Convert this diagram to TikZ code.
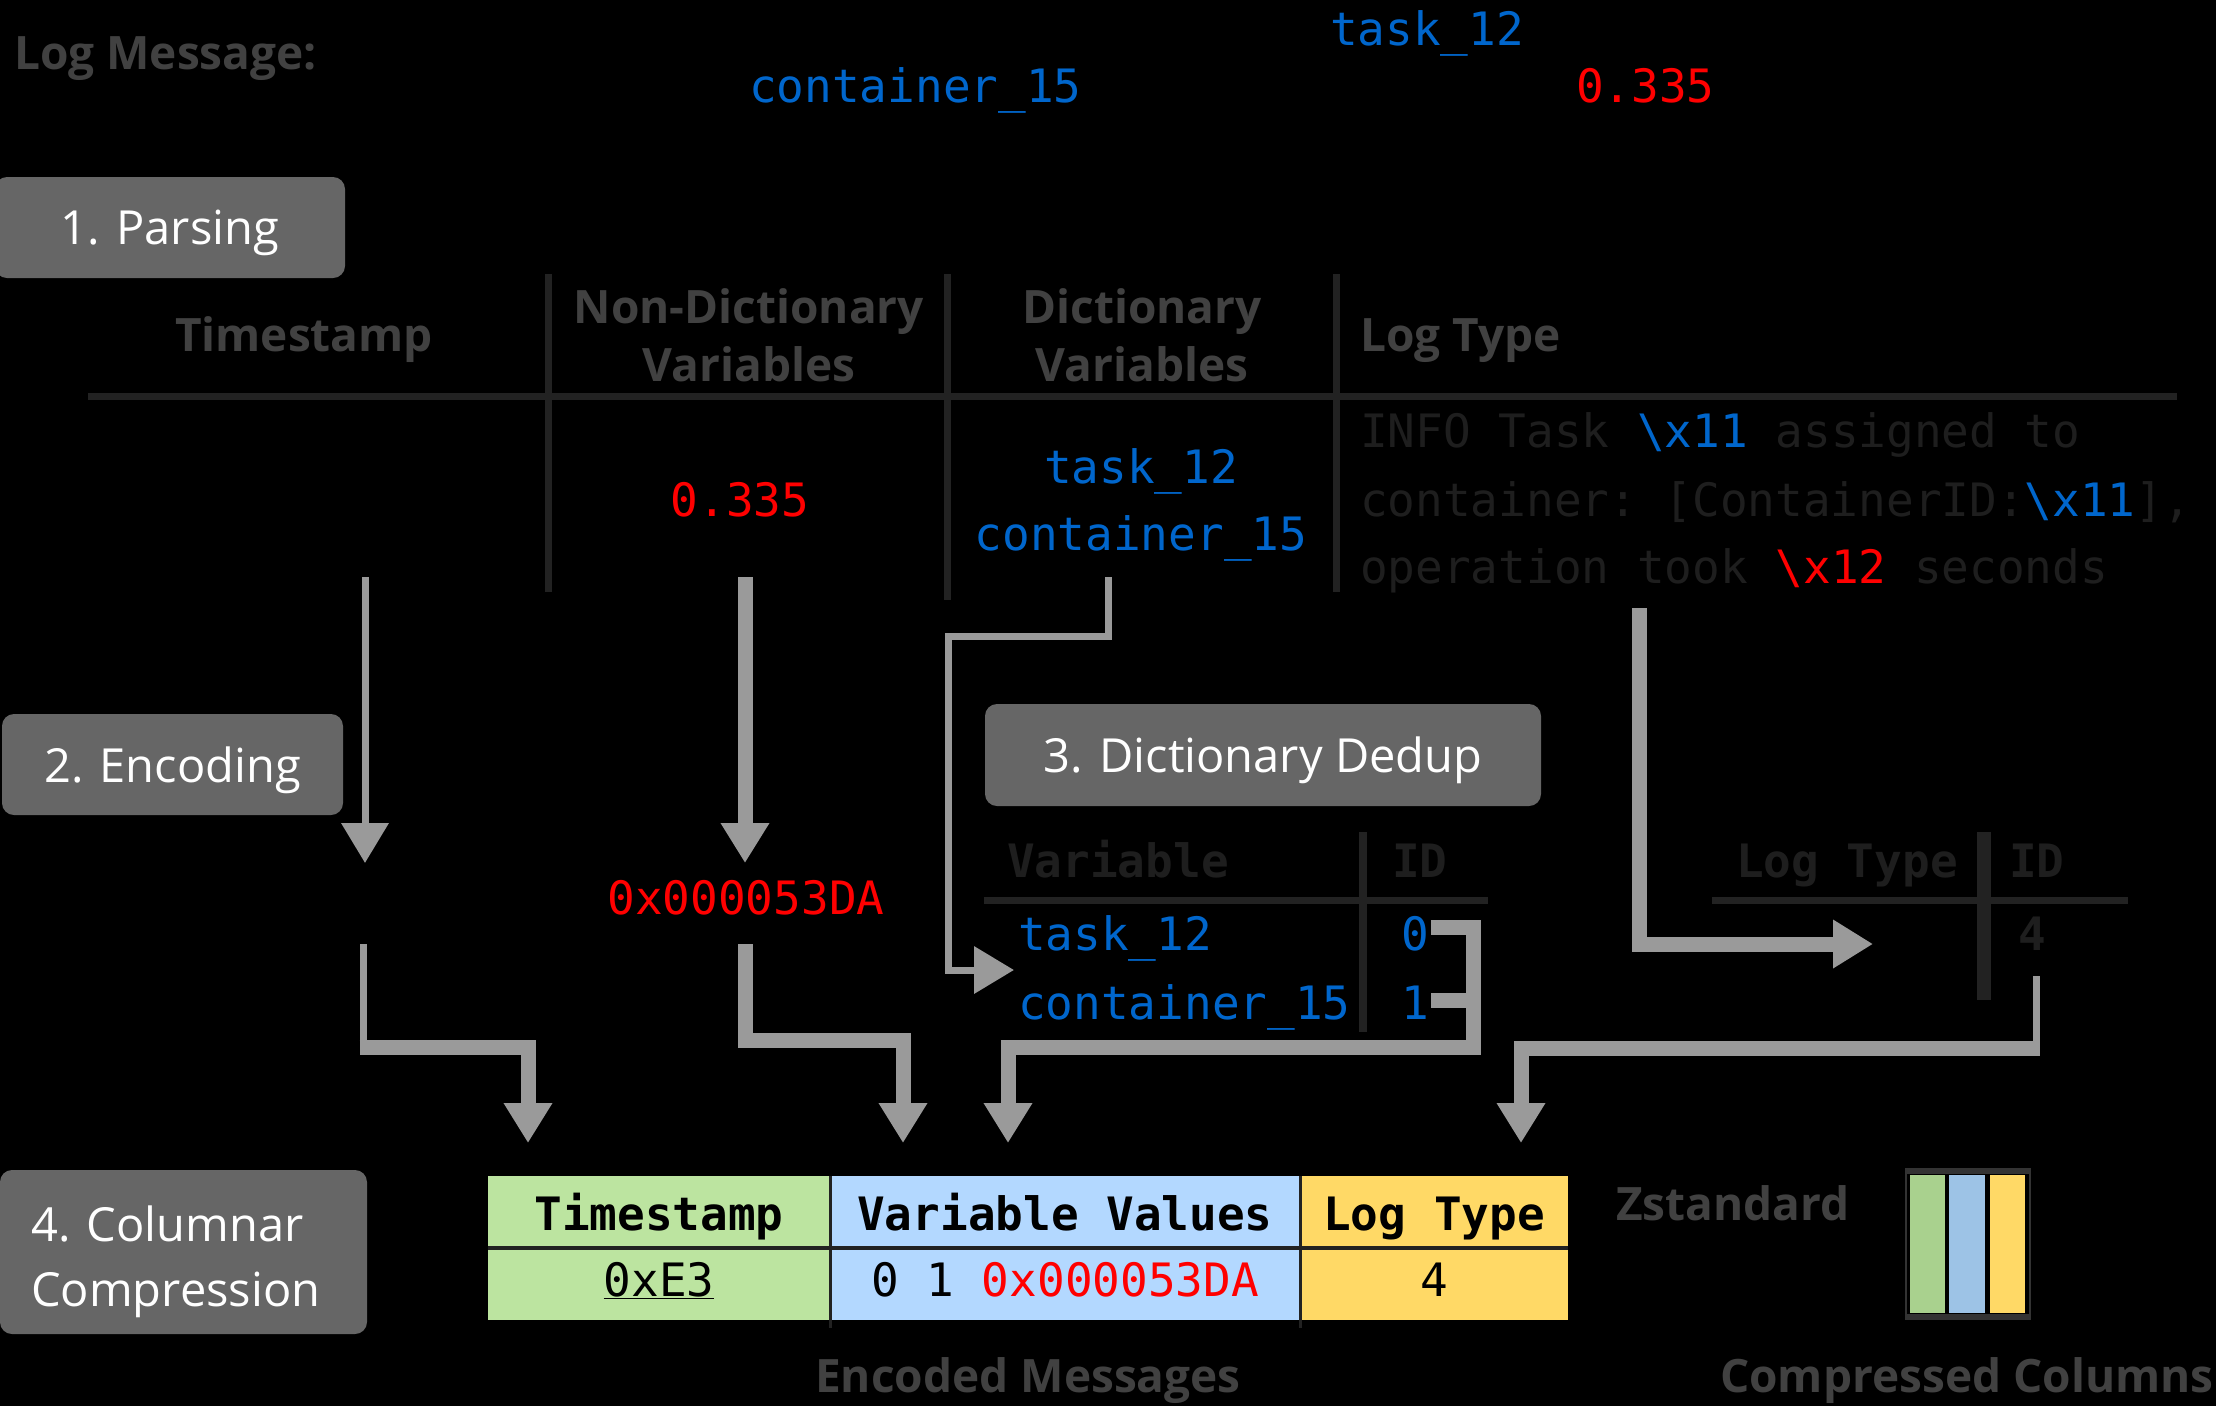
\documentclass[tikz,border=0pt]{standalone}
\usepackage{fontspec}
\setmainfont{Open Sans}
\setmonofont{DejaVu Sans Mono}
\usetikzlibrary{arrows.meta}
\definecolor{stagegray}{HTML}{666666}
\definecolor{headgray}{HTML}{414141}
\definecolor{darkline}{HTML}{222222}
\definecolor{darktext}{HTML}{1E1E1E}
\definecolor{arrgray}{HTML}{9A9A9A}
\definecolor{varblue}{HTML}{0066CC}
\definecolor{varred}{HTML}{FF0000}
\definecolor{cgreen}{HTML}{BCE4A0}
\definecolor{cblue}{HTML}{B3D8FF}
\definecolor{cyellow}{HTML}{FFD966}
\definecolor{bgreen}{HTML}{A9D18E}
\definecolor{bblue}{HTML}{9DC3E6}
\definecolor{rimgray}{HTML}{333333}
\newcommand{\mybs}{\textbackslash}
\begin{document}
\begin{tikzpicture}[x=1pt,y=-1pt,
  stage/.style={fill=stagegray, text=white, rounded corners=12pt, inner sep=0pt, text depth=0pt, font=\fontsize{47}{65}\selectfont},
  stagetext/.style={text=white, inner sep=0pt, font=\fontsize{47}{65}\selectfont},
  graytext/.style={text=headgray, inner sep=0pt, font=\fontsize{46}{56}\selectfont\bfseries},
  mono/.style={inner sep=0pt, font=\fontsize{46}{56}\selectfont\ttfamily},
  monob/.style={inner sep=0pt, font=\fontsize{46}{56}\selectfont\ttfamily\bfseries, text=darktext},
  tblrule/.style={draw=darkline, line width=7pt},
  thinarr/.style={draw=arrgray, line width=7pt},
  thickarr/.style={draw=arrgray, line width=15pt},
  arrtip/.style={-{Triangle[length=40pt,width=46pt]}},
  tcell/.style={inner sep=0pt, text height=34pt, text depth=9pt, minimum height=72pt, text=black, font=\fontsize{46}{56}\selectfont\ttfamily},
  thead/.style={tcell, text height=46pt, text depth=9pt, font=\fontsize{46}{56}\selectfont\ttfamily\bfseries}
]
\useasboundingbox (0,0) rectangle (2216,1406);
\fill[black] (0,0) rectangle (2216,1406);

% ---------- log message ----------
\node[graytext, anchor=base west] (lm) at (14,69) {Log Message:};
\node[mono, text=varblue, anchor=base west] (m-t12) at (1330,45) {task\_12};
\node[mono, text=varblue, anchor=base west] (m-c15) at (749,102) {container\_15};
\node[mono, text=varred, anchor=base west] (m-num) at (1576,102) {0.335};

% ---------- stage boxes ----------
\node[stage, minimum width=350pt, minimum height=101pt] (s1) at (170,227.5) {1. Parsing};
\node[stage, minimum width=341pt, minimum height=101pt] (s2) at (172.5,764.5) {2. Encoding};
\node[stage, minimum width=556pt, minimum height=102pt] (s3) at (1263,755) {3. Dictionary Dedup};
\node[stage, minimum width=367pt, minimum height=164pt] (s4) at (183.5,1252) {};
\node[stagetext, anchor=base west] (s4a) at (31,1241) {4. Columnar};
\node[stagetext, anchor=base west] (s4b) at (31,1306) {Compression};

% ---------- parsing table ----------
\node[graytext, anchor=base] (h-ts) at (304,351) {Timestamp};
\node[graytext, anchor=base] (h-nd1) at (749,323) {Non-Dictionary};
\node[graytext, anchor=base] (h-nd2) at (749,381) {Variables};
\node[graytext, anchor=base] (h-d1) at (1142,323) {Dictionary};
\node[graytext, anchor=base] (h-d2) at (1142,381) {Variables};
\node[graytext, anchor=base west] (h-lt) at (1360,351) {Log Type};
\draw[tblrule] (88,396) -- (2177,396);
\draw[tblrule] (548,274) -- (548,592);
\draw[tblrule] (947,274) -- (947,600);
\draw[tblrule] (1336,274) -- (1336,592);

\node[mono, text=varred, anchor=base] (p-num) at (740,516) {0.335};
\node[mono, text=varblue, anchor=base] (p-d1) at (1141,483) {task\_12};
\node[mono, text=varblue, anchor=base] (p-d2) at (1141,550) {container\_15};
\node[mono, text=darktext, anchor=base west] (lt1) at (1360,447) {INFO Task \textcolor{varblue}{\mybs x11} assigned to};
\node[mono, text=darktext, anchor=base west] (lt2) at (1360,516) {container: [ContainerID:\textcolor{varblue}{\mybs x11}],};
\node[mono, text=darktext, anchor=base west] (lt3) at (1360,583) {operation took \textcolor{varred}{\mybs x12} seconds};

% ---------- upper arrows ----------
\coordinate (a-ts1) at (365,577);
\coordinate (a-ts2) at (365,863);
\draw[thinarr, arrtip] (a-ts1) -- (a-ts2);
\coordinate (a-nd1) at (745,577);
\coordinate (a-nd2) at (745,863);
\draw[thickarr, arrtip] (a-nd1) -- (a-nd2);
\coordinate (a-d1) at (1108,577);
\coordinate (a-d2) at (948,636);
\coordinate (a-d3) at (1014,970);
\draw[thinarr, arrtip] (a-d1) |- (a-d2) |- (a-d3);
\coordinate (a-lt1) at (1639,608);
\coordinate (a-lt2) at (1873,944);
\draw[thickarr, arrtip] (a-lt1) |- (a-lt2);

% ---------- encoding ----------
\node[mono, text=varred, anchor=base] (enc-num) at (746,914) {0x000053DA};

% ---------- dictionary table ----------
\node[monob, anchor=base west] (dh1) at (1007,877) {Variable};
\node[monob, anchor=base west] (dh2) at (1392,877) {ID};
\draw[tblrule] (984,900) -- (1488,900);
\draw[draw=darkline, line width=8pt] (1363,832) -- (1363,1032);
\node[mono, text=varblue, anchor=base west] (dv1) at (1018,950) {task\_12};
\node[mono, text=varblue, anchor=base west] (dv2) at (1018,1019) {container\_15};
\node[mono, text=varblue, anchor=base west] (di0) at (1401,950) {0};
\node[mono, text=varblue, anchor=base west] (di1) at (1401,1019) {1};

% ---------- log type table ----------
\node[monob, anchor=base west] (lh1) at (1736,877) {Log Type};
\node[monob, anchor=base west] (lh2) at (2009,877) {ID};
\draw[tblrule] (1712,900) -- (2128,900);
\draw[draw=darkline, line width=14pt] (1984,832) -- (1984,1000);
\node[monob, anchor=base west] (lid) at (2018,950) {4};

% ---------- lower arrows ----------
\coordinate (b-ts1) at (363,944);
\coordinate (b-ts2) at (363,1047);
\coordinate (b-ts3) at (359.5,1047);
\coordinate (b-ts4) at (528,1143);
\draw[thinarr] (b-ts1) -- (b-ts2);
\draw[thickarr, arrtip] (b-ts3) -| (b-ts4);

\coordinate (b-nd1) at (745,944);
\coordinate (b-nd2) at (903,1040);
\coordinate (b-nd3) at (903,1143);
\draw[thickarr, arrtip] (b-nd1) |- (b-nd2) -- (b-nd3);

\coordinate (b-d0) at (1431,927);
\coordinate (b-d1) at (1431,1000);
\coordinate (b-dc) at (1473,1000);
\coordinate (b-db) at (1473,1047);
\coordinate (b-d3) at (1008,1143);
\draw[thickarr] (b-d1) -- (b-dc);
\draw[thickarr, arrtip] (b-d0) -| (b-db) -| (b-d3);

\coordinate (b-lt1) at (2036,976);
\coordinate (b-lt2) at (2036,1048);
\coordinate (b-lt3) at (2039.5,1048);
\coordinate (b-lt4) at (1521,1143);
\draw[thinarr] (b-lt1) -- (b-lt2);
\draw[thickarr, arrtip] (b-lt3) -| (b-lt4);

% ---------- encoded message table ----------
\node[thead, fill=cgreen, minimum width=342pt] (t-ts) at (659,1212) {Timestamp};
\node[thead, fill=cblue, minimum width=470pt] (t-vv) at (1065,1212) {Variable Values};
\node[thead, fill=cyellow, minimum width=268pt] (t-lt) at (1434,1212) {Log Type};
\node[tcell, fill=cgreen, minimum width=342pt] (r-ts) at (659,1284) {\underline{0xE3}};
\node[tcell, fill=cblue, minimum width=470pt] (r-vv) at (1065,1284) {0 1 \textcolor{varred}{0x000053DA}};
\node[tcell, fill=cyellow, minimum width=268pt] (r-lt) at (1434,1284) {4};
\draw[draw=darkline, line width=4pt] (r-ts.north west) -- (r-lt.north east);
\draw[draw=darkline, line width=3pt] (r-ts.north east |- 0,1176) -- ([yshift=-8pt]r-ts.south east);
\draw[draw=darkline, line width=3pt] (r-vv.north east |- 0,1176) -- ([yshift=-8pt]r-vv.south east);
\node[graytext, anchor=base] (enc-lbl) at (1028,1392) {Encoded Messages};

% ---------- compressed columns ----------
\node[graytext, anchor=base west] (zstd) at (1616,1220) {Zstandard};
\fill[rimgray] (1905,1168) rectangle (2031,1320);
\fill[black] (1907,1174) rectangle (2029,1314);
\node[fill=bgreen, inner sep=0pt, minimum width=35pt, minimum height=138pt] (cc1) at (1927.5,1244) {};
\node[fill=bblue, inner sep=0pt, minimum width=36pt, minimum height=138pt] (cc2) at (1967,1244) {};
\node[fill=cyellow, inner sep=0pt, minimum width=35pt, minimum height=138pt] (cc3) at (2007.5,1244) {};
\node[graytext, anchor=base west] (cc-lbl) at (1720,1392) {Compressed Columns};
\end{tikzpicture}
\end{document}
